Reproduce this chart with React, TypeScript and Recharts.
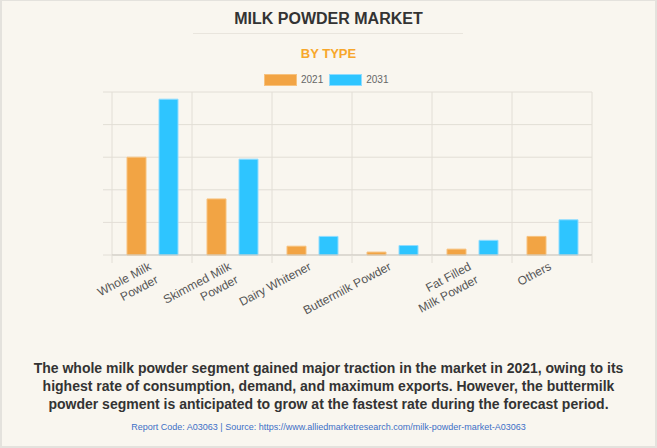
import { Bar, BarChart, CartesianGrid, Legend, XAxis, YAxis } from 'recharts';

const categories = [
  'Whole Milk Powder',
  'Skimmed Milk Powder',
  'Dairy Whitener',
  'Buttermilk Powder',
  'Fat Filled Milk Powder',
  'Others',
];
const tickLabels = [
  ['Whole Milk', 'Powder'],
  ['Skimmed Milk', 'Powder'],
  ['Dairy Whitener'],
  ['Buttermilk Powder'],
  ['Fat Filled', 'Milk Powder'],
  ['Others'],
];
const values2021 = [3.0, 1.72, 0.27, 0.09, 0.18, 0.57];
const values2031 = [4.78, 2.94, 0.57, 0.29, 0.45, 1.08];
const yTicks = [0, 1, 2, 3, 4, 5];

const chartData = categories.map((name, i) => ({
  name,
  y2021: values2021[i],
  y2031: values2031[i],
}));

const FONT = '"Liberation Sans", Arial, Helvetica, sans-serif';
const GRID = '#e2ded6';
const W = 657;
const H = 448;
const MARGIN = { top: 92, right: 65, left: 103, bottom: 153 };
const Y_W = 9;
const HALF_BAND = (W - MARGIN.left - MARGIN.right - Y_W) / categories.length / 2;

function CategoryTick(props: any) {
  const { x, y, payload, index } = props;
  const lines = tickLabels[index] || [payload.value];
  return (
    <g>
      <line x1={x - HALF_BAND} x2={x - HALF_BAND} y1={y - 8} y2={y} stroke={GRID} />
      {index === categories.length - 1 && (
        <line x1={x + HALF_BAND} x2={x + HALF_BAND} y1={y - 8} y2={y} stroke={GRID} />
      )}
      <g transform={`translate(${x},${y + 6}) rotate(-28)`}>
        {lines.map((l: string, i: number) => (
          <text key={i} x={0} y={i * 15} textAnchor="end" fill="#555" fontSize={12} fontFamily={FONT}>
            {l}
          </text>
        ))}
      </g>
    </g>
  );
}

function LegendBox() {
  const items = [
    { label: '2021', fill: '#f2a444', stroke: '#f7c27e' },
    { label: '2031', fill: '#2ec5ff', stroke: '#8fdcff' },
  ];
  return (
    <div style={{ display: 'flex', alignItems: 'center', fontFamily: FONT }}>
      {items.map((it) => (
        <div key={it.label} style={{ display: 'flex', alignItems: 'center', marginRight: 6 }}>
          <span
            style={{
              width: 31,
              height: 10,
              background: it.fill,
              border: `1px solid ${it.stroke}`,
              marginRight: 4,
            }}
          />
          <span style={{ fontSize: 10, color: '#666', lineHeight: '12px' }}>{it.label}</span>
        </div>
      ))}
    </div>
  );
}

export default function App() {
  return (
    <div
      style={{
        position: 'absolute',
        left: 0,
        top: 0,
        width: W,
        height: H,
        background: '#f9f6ef',
        boxShadow: 'inset 2px 1px 0 #e4e2dd, inset -2px -2px 0 #e4e2dd',
        fontFamily: FONT,
        overflow: 'hidden',
      }}
    >
      <div
        style={{
          position: 'absolute',
          top: 11,
          left: 0,
          width: W,
          textAlign: 'center',
          fontSize: 16,
          lineHeight: '16px',
          fontWeight: 'bold',
          color: '#333',
        }}
      >
        MILK POWDER MARKET
      </div>
      <div
        style={{
          position: 'absolute',
          top: 33,
          left: 193,
          width: 270,
          height: 1,
          background: '#e9e5dd',
        }}
      />
      <div
        style={{
          position: 'absolute',
          top: 47,
          left: 0,
          width: W,
          textAlign: 'center',
          fontSize: 13,
          lineHeight: '13px',
          fontWeight: 'bold',
          color: '#f7a72b',
        }}
      >
        BY TYPE
      </div>

      <div style={{ position: 'absolute', left: 0, top: 0 }}>
        <BarChart width={W} height={H} data={chartData} margin={MARGIN} barSize={19} barGap={13}>
          <CartesianGrid
            stroke={GRID}
            verticalCoordinatesGenerator={({ offset }: any) => {
              const band = offset.width / categories.length;
              return categories.map((_, i) => offset.left + i * band).concat(offset.left + offset.width);
            }}
          />
          <XAxis
            dataKey="name"
            interval={0}
            height={40}
            tickLine={false}
            tickSize={8}
            tickMargin={0}
            axisLine={{ stroke: '#cdc9c1' }}
            tick={<CategoryTick />}
          />
          <YAxis
            domain={[0, 5]}
            ticks={yTicks}
            width={Y_W}
            axisLine={false}
            tickSize={9}
            tickLine={{ stroke: GRID }}
            tickFormatter={() => ''}
          />
          <Legend
            layout="vertical"
            align="center"
            verticalAlign="middle"
            wrapperStyle={{ position: 'absolute', top: 74, left: 264, width: 'auto' }}
            content={<LegendBox />}
          />
          <Bar dataKey="y2021" name="2021" fill="#f2a444" stroke="#f7c27e" strokeWidth={1} isAnimationActive={false} />
          <Bar dataKey="y2031" name="2031" fill="#2ec5ff" stroke="#8fdcff" strokeWidth={1} isAnimationActive={false} />
        </BarChart>
      </div>

      <div
        style={{
          position: 'absolute',
          top: 359,
          left: 0,
          width: W,
          textAlign: 'center',
          fontSize: 14,
          lineHeight: '18px',
          fontWeight: 'bold',
          color: '#333',
        }}
      >
        The whole milk powder segment gained major traction in the market in 2021, owing to its
        <br />
        highest rate of consumption, demand, and maximum exports. However, the buttermilk
        <br />
        powder segment is anticipated to grow at the fastest rate during the forecast period.
      </div>
      <div
        style={{
          position: 'absolute',
          top: 422,
          left: 0,
          width: W,
          textAlign: 'center',
          fontSize: 9,
          lineHeight: '10px',
          color: '#3d6fc6',
        }}
      >
        Report Code: A03063 | Source: https://www.alliedmarketresearch.com/milk-powder-market-A03063
      </div>
    </div>
  );
}
